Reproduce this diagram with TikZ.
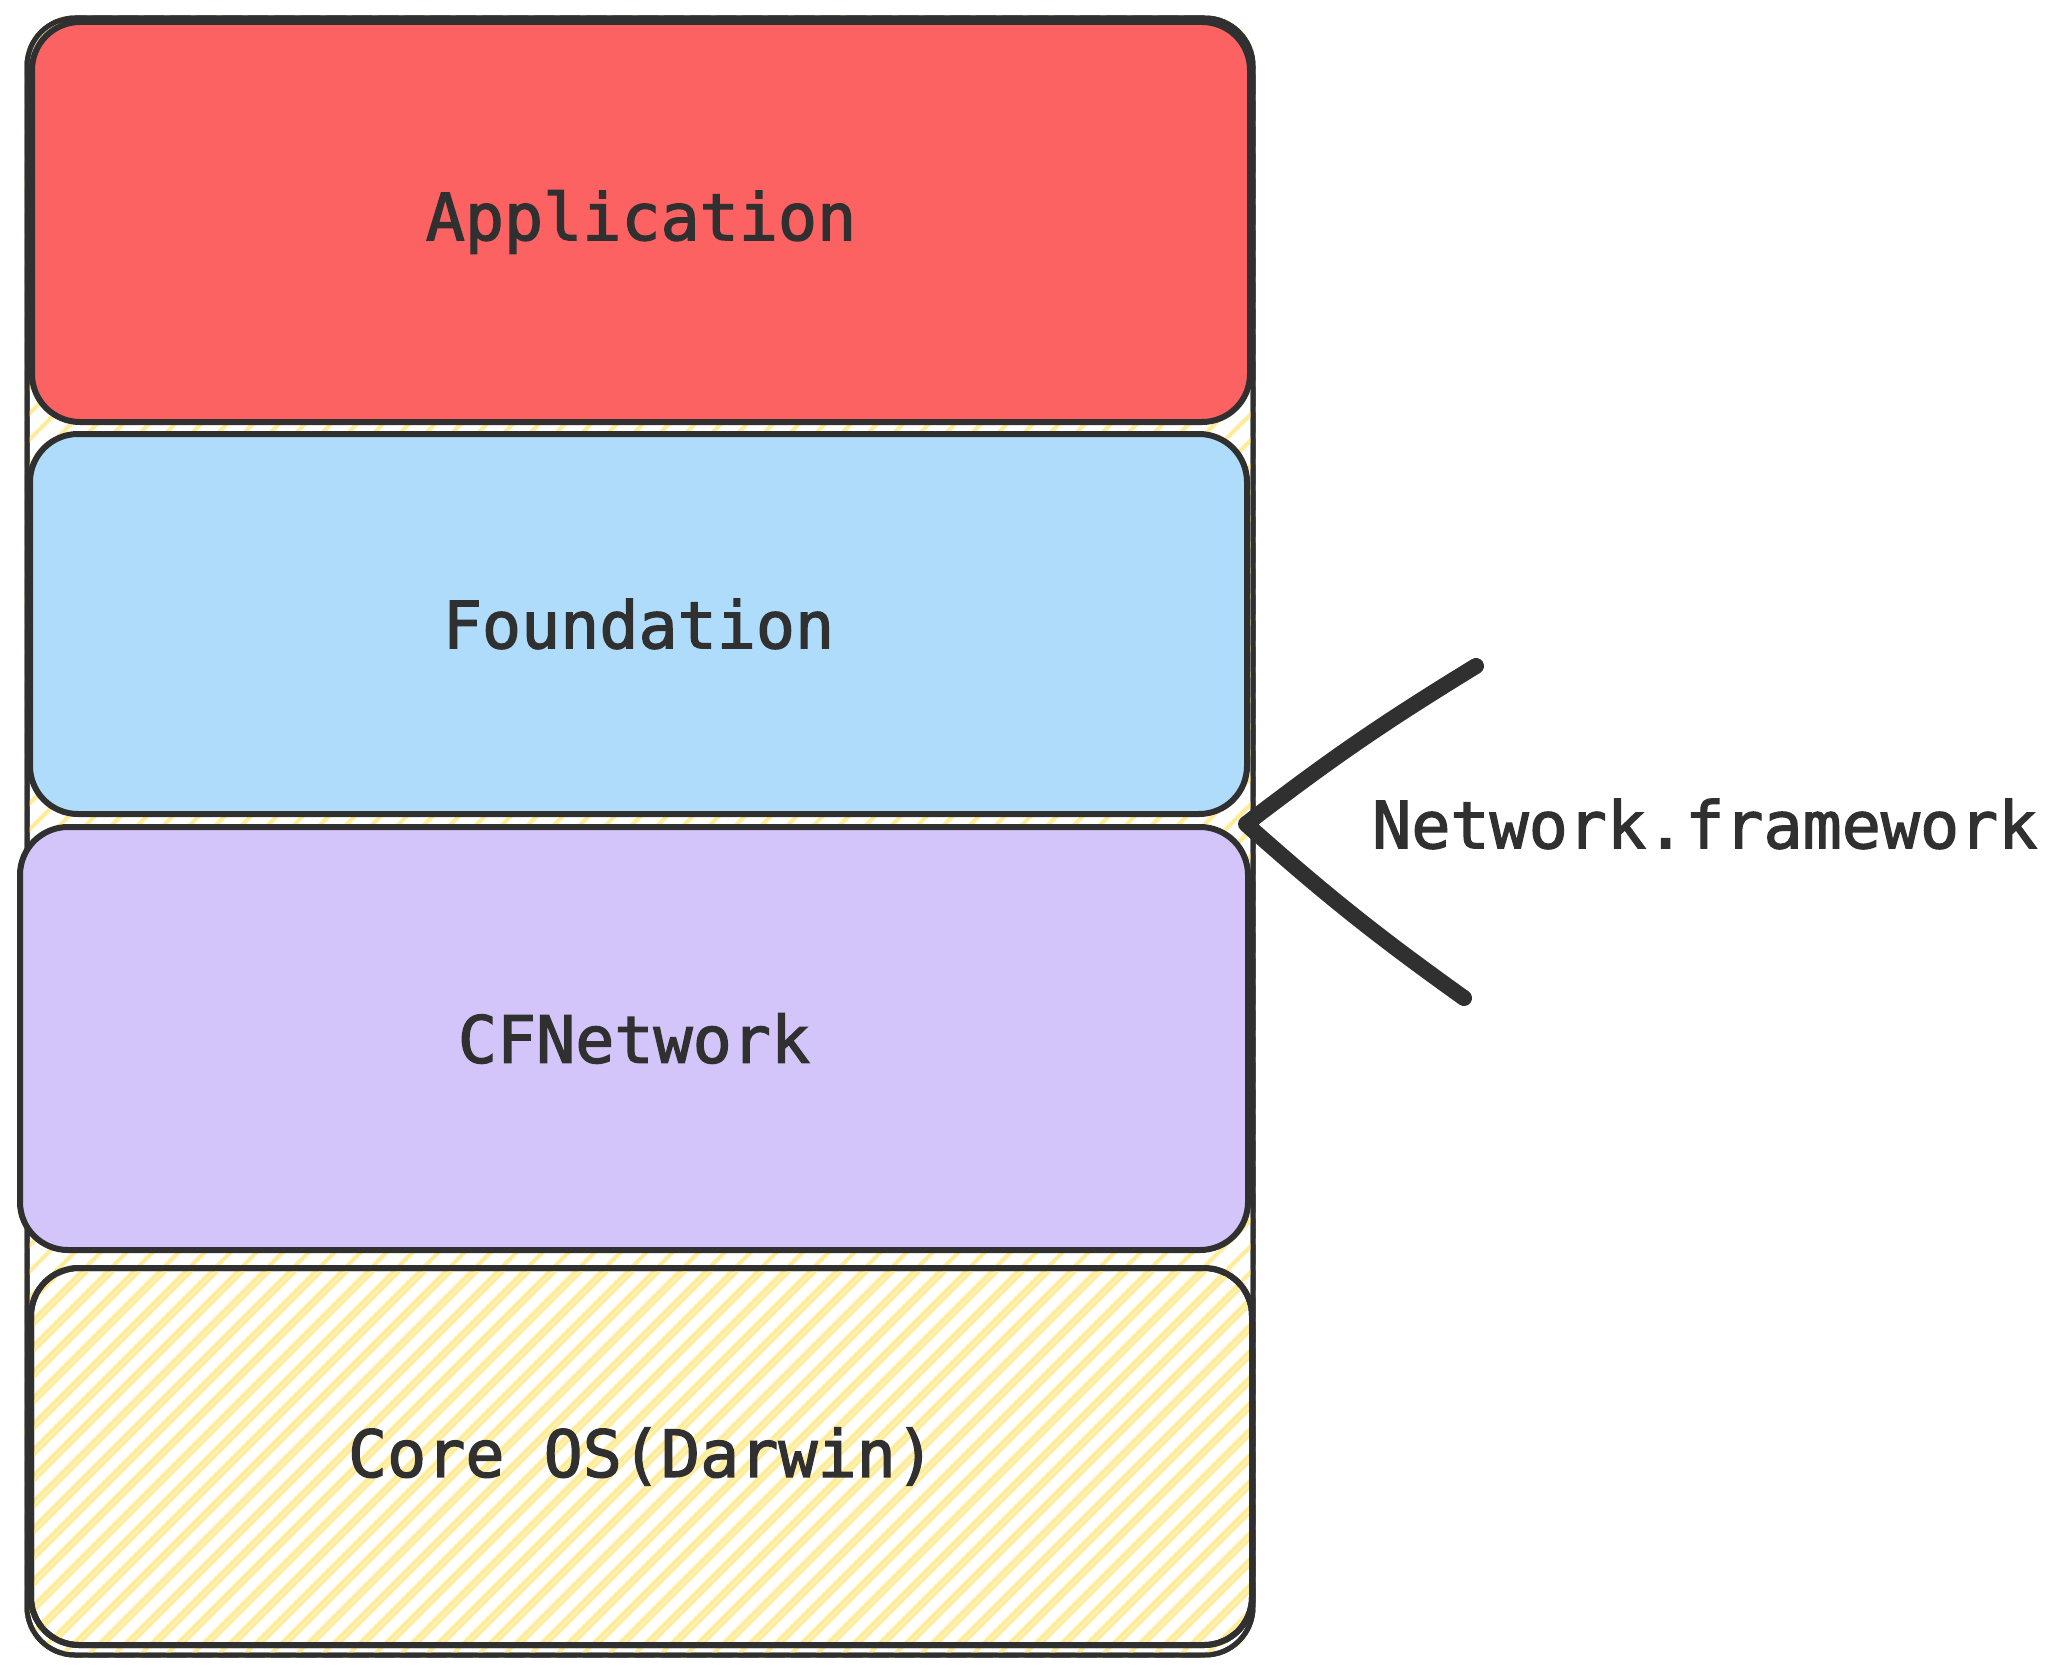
\documentclass[tikz,border=0pt]{standalone}
\usepackage{fontspec}
\setmonofont[FakeBold=2]{DejaVu Sans Mono}
\definecolor{ink}{HTML}{303030}
\definecolor{appred}{HTML}{FC6262}
\definecolor{fndblue}{HTML}{AEDCFA}
\definecolor{cfnpurple}{HTML}{D3C5FA}
\definecolor{hatchyellow}{HTML}{FFEC99}
\tikzset{
  layer/.style={draw=ink, line width=6pt, rounded corners=48pt, inner sep=0pt,
    font=\ttfamily\fontsize{65}{78}\selectfont, text=ink},
  outerbox/.style={draw=ink, line width=5pt, rounded corners=48pt, inner sep=0pt},
  chevron/.style={draw=ink, line width=16pt, line cap=round, line join=round},
  label/.style={font=\ttfamily\fontsize{65}{78}\selectfont, text=ink, inner sep=0pt},
  hatch/.style={hatchyellow, line width=4pt}
}
\begin{document}
\begin{tikzpicture}[x=1pt,y=-1pt]
\useasboundingbox (0,0) rectangle (2068,1675);
% outer container
\node[outerbox, minimum width=1226pt, minimum height=1637pt] (outer) at (640,836.5) {};
\begin{scope}
  \clip[rounded corners=48pt] (outer.south west) rectangle (outer.north east);
  \foreach \k in {-1700,-1674,...,1300} {
    \draw[hatch] (27+\k,1700) -- (27+\k+1760,-60);
  }
\end{scope}
% core layer hatch (second layer)
\node[layer, minimum width=1221pt, minimum height=377pt] (corebg) at (641.5,1456.5) {};
\begin{scope}
  \clip[rounded corners=48pt] (corebg.south west) rectangle (corebg.north east);
  \foreach \k in {-1700,-1674,...,1300} {
    \draw[hatch, line width=3pt] (33+\k,1700) -- (33+\k+1760,-60);
  }
\end{scope}
\node[outerbox, minimum width=1226pt, minimum height=1637pt] (outerb) at (640,836.5) {};
% layers
\node[layer, fill=appred, minimum width=1218pt, minimum height=400pt] (app) at (641,222) {Application};
\node[layer, fill=fndblue, minimum width=1217pt, minimum height=380pt] (fnd) at (638.5,624) {Foundation};
\node[layer, fill=cfnpurple, minimum width=1228pt, minimum height=423pt] (cfn) at (634,1038.5) {CFNetwork};
\node[layer, minimum width=1221pt, minimum height=377pt] (core) at (641.5,1456.5) {Core OS(Darwin)};
% chevron pointing at the boundary
\coordinate (tip) at (1246,824);
\coordinate (up) at (1476,666);
\coordinate (low) at (1464,998);
\draw[chevron] (up) to[bend right=3] (tip) to[bend right=3] (low);
\node[label, anchor=west] (nf) at (1372,824) {Network.framework};
\end{tikzpicture}
\end{document}
